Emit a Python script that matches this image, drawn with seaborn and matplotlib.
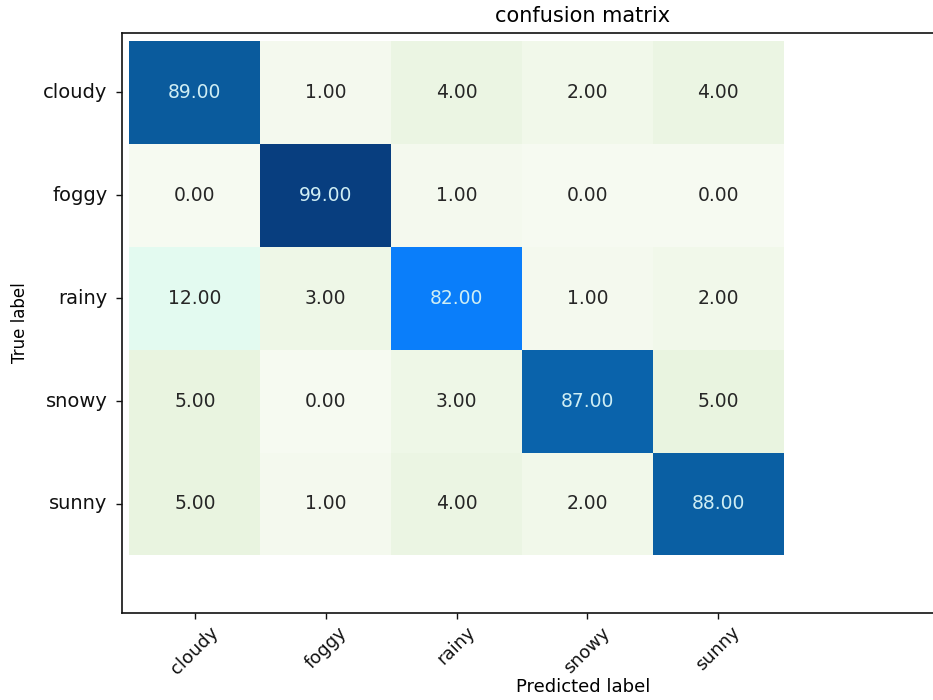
import numpy as np
import pandas as pd
import matplotlib
matplotlib.use("Agg")
import matplotlib.pyplot as plt
from matplotlib.colors import LinearSegmentedColormap
import seaborn as sns

# Class names and the confusion matrix (rows: true, columns: predicted)
classes = ["cloudy", "foggy", "rainy", "snowy", "sunny"]
row_cloudy = [89, 1, 4, 2, 4]
row_foggy = [0, 99, 1, 0, 0]
row_rainy = [12, 3, 82, 1, 2]
row_snowy = [5, 0, 3, 87, 5]
row_sunny = [5, 1, 4, 2, 88]

cm = pd.DataFrame(
    [row_cloudy, row_foggy, row_rainy, row_snowy, row_sunny],
    index=classes, columns=classes, dtype=float,
)

vmax = 99.0
cmap = LinearSegmentedColormap.from_list(
    "cm_greenblue",
    [
        (0.0, "#f6faf1"),
        (5 / vmax, "#e8f4df"),
        (12 / vmax, "#e3faf0"),
        (82 / vmax, "#0a80ff"),
        (87 / vmax, "#0a63aa"),
        (89 / vmax, "#0a5c9e"),
        (1.0, "#083e7f"),
    ],
)

fig = plt.figure(figsize=(9.33, 7.0), dpi=100)
ax = fig.add_axes([0.1308, 0.1243, 0.988, 0.8286])

sns.heatmap(
    cm, ax=ax, cmap=cmap, vmin=0, vmax=vmax, cbar=False,
    annot=True, fmt=".2f", annot_kws={"fontsize": 13.5},
)

for t in ax.texts:
    val = float(t.get_text())
    t.set_color("#cfeef4" if val > 50 else "#262626")

ax.set_xlim(-0.057, 6.99)
ax.set_ylim(5.56, -0.078)

for s in ax.spines.values():
    s.set_visible(True)
    s.set_color("#111111")
    s.set_linewidth(1.2)

ax.tick_params(axis="both", length=4, width=1, color="#111111",
               labelcolor="#111111")
ax.tick_params(axis="x", labelsize=13)
ax.tick_params(axis="y", labelsize=14, pad=6.5)
ax.set_xticklabels(classes, rotation=45, ha="center")
ax.set_yticklabels(classes, rotation=0)

ax.set_title("confusion matrix", fontsize=15, pad=8)
ax.set_xlabel("Predicted label", fontsize=13, labelpad=0)
ax.set_ylabel("True label", fontsize=12, labelpad=10)

fig.savefig("out.png", dpi=100)
